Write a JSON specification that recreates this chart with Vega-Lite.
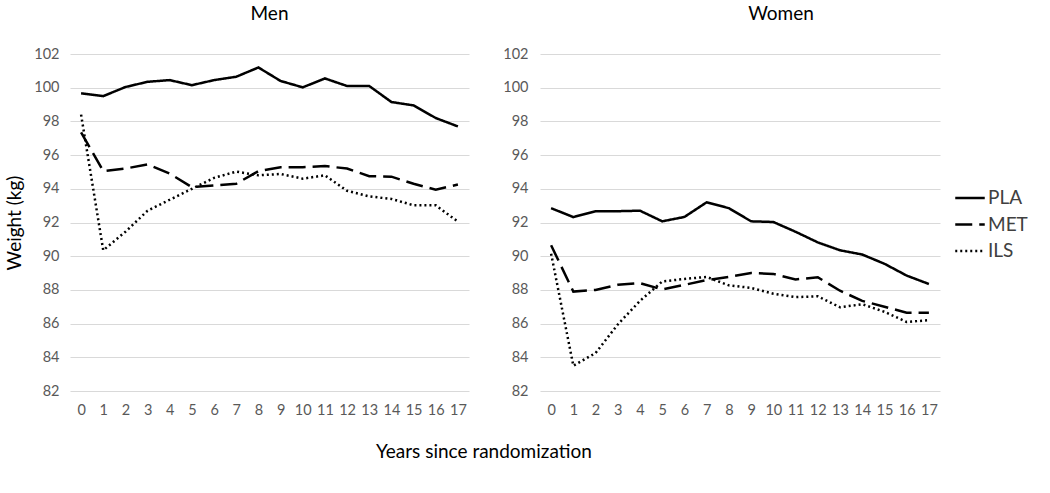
{
  "$schema": "https://vega.github.io/schema/vega-lite/v6.json",
  "background": "white",
  "padding": {"left": 5, "top": 5, "right": 5, "bottom": 5},
  "config": {
    "font": "Lato",
    "view": {"stroke": null},
    "axis": {"labelColor": "#595959", "labelFont": "Lato", "labelFontSize": 14.5, "titleColor": "#000000", "titleFont": "Lato", "titleFontWeight": "normal", "titleFontSize": 19, "ticks": false, "domain": false, "gridColor": "#d9d9d9", "gridWidth": 1},
    "title": {"font": "Lato", "fontSize": 19, "fontWeight": "normal", "color": "#000000"},
    "legend": {"labelFont": "Lato", "labelFontSize": 19, "labelColor": "#404040"},
    "concat": {"spacing": 33}
  },
  "title": {"text": "Years since randomization", "orient": "bottom", "anchor": "middle", "fontSize": 19, "offset": 26, "dx": -33},
  "data": {"values": [
    {"sex":"Men","group":"PLA","year":0,"weight":99.67},{"sex":"Men","group":"PLA","year":1,"weight":99.5},{"sex":"Men","group":"PLA","year":2,"weight":100.04},{"sex":"Men","group":"PLA","year":3,"weight":100.35},{"sex":"Men","group":"PLA","year":4,"weight":100.45},{"sex":"Men","group":"PLA","year":5,"weight":100.15},{"sex":"Men","group":"PLA","year":6,"weight":100.45},{"sex":"Men","group":"PLA","year":7,"weight":100.65},{"sex":"Men","group":"PLA","year":8,"weight":101.2},{"sex":"Men","group":"PLA","year":9,"weight":100.4},{"sex":"Men","group":"PLA","year":10,"weight":100.02},{"sex":"Men","group":"PLA","year":11,"weight":100.55},{"sex":"Men","group":"PLA","year":12,"weight":100.1},{"sex":"Men","group":"PLA","year":13,"weight":100.1},{"sex":"Men","group":"PLA","year":14,"weight":99.15},{"sex":"Men","group":"PLA","year":15,"weight":98.95},{"sex":"Men","group":"PLA","year":16,"weight":98.2},{"sex":"Men","group":"PLA","year":17,"weight":97.7},
    {"sex":"Men","group":"MET","year":0,"weight":97.35},{"sex":"Men","group":"MET","year":1,"weight":95.05},{"sex":"Men","group":"MET","year":2,"weight":95.2},{"sex":"Men","group":"MET","year":3,"weight":95.45},{"sex":"Men","group":"MET","year":4,"weight":94.9},{"sex":"Men","group":"MET","year":5,"weight":94.1},{"sex":"Men","group":"MET","year":6,"weight":94.2},{"sex":"Men","group":"MET","year":7,"weight":94.3},{"sex":"Men","group":"MET","year":8,"weight":95.05},{"sex":"Men","group":"MET","year":9,"weight":95.28},{"sex":"Men","group":"MET","year":10,"weight":95.28},{"sex":"Men","group":"MET","year":11,"weight":95.35},{"sex":"Men","group":"MET","year":12,"weight":95.2},{"sex":"Men","group":"MET","year":13,"weight":94.75},{"sex":"Men","group":"MET","year":14,"weight":94.72},{"sex":"Men","group":"MET","year":15,"weight":94.3},{"sex":"Men","group":"MET","year":16,"weight":93.95},{"sex":"Men","group":"MET","year":17,"weight":94.25},
    {"sex":"Men","group":"ILS","year":0,"weight":98.4},{"sex":"Men","group":"ILS","year":1,"weight":90.35},{"sex":"Men","group":"ILS","year":2,"weight":91.45},{"sex":"Men","group":"ILS","year":3,"weight":92.7},{"sex":"Men","group":"ILS","year":4,"weight":93.35},{"sex":"Men","group":"ILS","year":5,"weight":94.0},{"sex":"Men","group":"ILS","year":6,"weight":94.65},{"sex":"Men","group":"ILS","year":7,"weight":95.02},{"sex":"Men","group":"ILS","year":8,"weight":94.8},{"sex":"Men","group":"ILS","year":9,"weight":94.88},{"sex":"Men","group":"ILS","year":10,"weight":94.6},{"sex":"Men","group":"ILS","year":11,"weight":94.8},{"sex":"Men","group":"ILS","year":12,"weight":93.88},{"sex":"Men","group":"ILS","year":13,"weight":93.55},{"sex":"Men","group":"ILS","year":14,"weight":93.4},{"sex":"Men","group":"ILS","year":15,"weight":93.02},{"sex":"Men","group":"ILS","year":16,"weight":93.02},{"sex":"Men","group":"ILS","year":17,"weight":92.05},
    {"sex":"Women","group":"PLA","year":0,"weight":92.85},{"sex":"Women","group":"PLA","year":1,"weight":92.32},{"sex":"Women","group":"PLA","year":2,"weight":92.67},{"sex":"Women","group":"PLA","year":3,"weight":92.67},{"sex":"Women","group":"PLA","year":4,"weight":92.7},{"sex":"Women","group":"PLA","year":5,"weight":92.07},{"sex":"Women","group":"PLA","year":6,"weight":92.33},{"sex":"Women","group":"PLA","year":7,"weight":93.2},{"sex":"Women","group":"PLA","year":8,"weight":92.85},{"sex":"Women","group":"PLA","year":9,"weight":92.07},{"sex":"Women","group":"PLA","year":10,"weight":92.03},{"sex":"Women","group":"PLA","year":11,"weight":91.45},{"sex":"Women","group":"PLA","year":12,"weight":90.82},{"sex":"Women","group":"PLA","year":13,"weight":90.35},{"sex":"Women","group":"PLA","year":14,"weight":90.1},{"sex":"Women","group":"PLA","year":15,"weight":89.55},{"sex":"Women","group":"PLA","year":16,"weight":88.85},{"sex":"Women","group":"PLA","year":17,"weight":88.35},
    {"sex":"Women","group":"MET","year":0,"weight":90.65},{"sex":"Women","group":"MET","year":1,"weight":87.9},{"sex":"Women","group":"MET","year":2,"weight":88.0},{"sex":"Women","group":"MET","year":3,"weight":88.3},{"sex":"Women","group":"MET","year":4,"weight":88.4},{"sex":"Women","group":"MET","year":5,"weight":88.03},{"sex":"Women","group":"MET","year":6,"weight":88.3},{"sex":"Women","group":"MET","year":7,"weight":88.58},{"sex":"Women","group":"MET","year":8,"weight":88.77},{"sex":"Women","group":"MET","year":9,"weight":89.0},{"sex":"Women","group":"MET","year":10,"weight":88.95},{"sex":"Women","group":"MET","year":11,"weight":88.62},{"sex":"Women","group":"MET","year":12,"weight":88.75},{"sex":"Women","group":"MET","year":13,"weight":87.95},{"sex":"Women","group":"MET","year":14,"weight":87.35},{"sex":"Women","group":"MET","year":15,"weight":87.0},{"sex":"Women","group":"MET","year":16,"weight":86.65},{"sex":"Women","group":"MET","year":17,"weight":86.65},
    {"sex":"Women","group":"ILS","year":0,"weight":90.15},{"sex":"Women","group":"ILS","year":1,"weight":83.5},{"sex":"Women","group":"ILS","year":2,"weight":84.25},{"sex":"Women","group":"ILS","year":3,"weight":85.95},{"sex":"Women","group":"ILS","year":4,"weight":87.35},{"sex":"Women","group":"ILS","year":5,"weight":88.5},{"sex":"Women","group":"ILS","year":6,"weight":88.65},{"sex":"Women","group":"ILS","year":7,"weight":88.77},{"sex":"Women","group":"ILS","year":8,"weight":88.27},{"sex":"Women","group":"ILS","year":9,"weight":88.12},{"sex":"Women","group":"ILS","year":10,"weight":87.77},{"sex":"Women","group":"ILS","year":11,"weight":87.57},{"sex":"Women","group":"ILS","year":12,"weight":87.62},{"sex":"Women","group":"ILS","year":13,"weight":86.97},{"sex":"Women","group":"ILS","year":14,"weight":87.15},{"sex":"Women","group":"ILS","year":15,"weight":86.7},{"sex":"Women","group":"ILS","year":16,"weight":86.1},{"sex":"Women","group":"ILS","year":17,"weight":86.2}
  ]},
  "hconcat": [
    {
      "title": {"text": "Men", "offset": 22},
      "width": 399,
      "height": 337,
      "transform": [{"filter": "datum.sex === 'Men'"}],
      "mark": {"type": "line", "strokeWidth": 2.5, "color": "#000000", "strokeCap": "butt"},
      "encoding": {
        "x": {"field": "year", "type": "ordinal", "sort": "ascending", "scale": {"type": "point", "padding": 0.5}, "axis": {"title": null, "labelAngle": 0, "labelPadding": 12, "grid": false}},
        "y": {"field": "weight", "type": "quantitative", "scale": {"domain": [82, 102], "nice": false, "zero": false}, "axis": {"title": "Weight (kg)", "values": [82,84,86,88,90,92,94,96,98,100,102], "labelPadding": 11, "titlePadding": 9}},
        "strokeDash": {"field": "group", "type": "nominal", "scale": {"domain": ["PLA", "MET", "ILS"], "range": [[1, 0], [17, 7], [2, 3]]}, "legend": {"title": null, "orient": "none", "legendX": 884, "legendY": 128, "symbolType": "stroke", "symbolSize": 870, "symbolStrokeWidth": 2.5, "symbolStrokeColor": "#000000", "labelOffset": 2, "rowPadding": 0.5, "padding": 0}}
      }
    },
    {
      "title": {"text": "Women", "offset": 22, "dx": 41},
      "width": 400,
      "height": 337,
      "transform": [{"filter": "datum.sex === 'Women'"}],
      "mark": {"type": "line", "strokeWidth": 2.5, "color": "#000000", "strokeCap": "butt"},
      "encoding": {
        "x": {"field": "year", "type": "ordinal", "sort": "ascending", "scale": {"type": "point", "padding": 0.5}, "axis": {"title": null, "labelAngle": 0, "labelPadding": 12, "grid": false}},
        "y": {"field": "weight", "type": "quantitative", "scale": {"domain": [82, 102], "nice": false, "zero": false}, "axis": {"title": null, "values": [82,84,86,88,90,92,94,96,98,100,102], "labelPadding": 12}},
        "strokeDash": {"field": "group", "type": "nominal", "scale": {"domain": ["PLA", "MET", "ILS"], "range": [[1, 0], [17, 7], [2, 3]]}, "legend": {"title": null, "orient": "none", "legendX": 884, "legendY": 128, "symbolType": "stroke", "symbolSize": 870, "symbolStrokeWidth": 2.5, "symbolStrokeColor": "#000000", "labelOffset": 2, "rowPadding": 0.5, "padding": 0}}
      }
    }
  ],
  "resolve": {"scale": {"y": "independent", "x": "independent"}}
}
